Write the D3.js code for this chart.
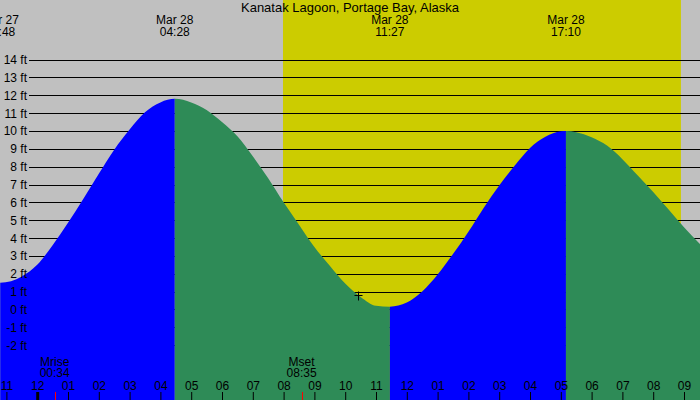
<!DOCTYPE html>
<html>
<head>
<meta charset="utf-8">
<script src="https://cdn.jsdelivr.net/npm/d3@7"></script>
<style>
  body { margin: 0; }
  text { font-family: "Liberation Sans", Arial, sans-serif; }
</style>
</head>
<body>
<script>
// chart size
var width = 700,
    height = 400;

// tide heights (hours from Mar 28 00:00, feet)
var tideHours = [-1.3, -1.2, -0.5, 0, 0.5, 1, 1.5, 2, 2.5, 3, 3.5, 4, 4.47,
                 5, 5.5, 6, 6.5, 7, 7.5, 8, 8.5, 9, 9.5, 10, 10.5, 11, 11.45,
                 12, 12.5, 13, 13.5, 14, 14.5, 15, 15.5, 16, 16.5, 17, 17.17,
                 17.5, 18, 18.5, 19, 19.5, 20, 20.5, 21, 21.5, 22];
var tideFeet = [1.51, 1.5, 1.85, 2.5, 3.6, 4.85, 6.2, 7.6, 8.95, 10.08, 11.05, 11.6, 11.8,
                11.6, 11.18, 10.5, 9.7, 8.58, 7.35, 6.0, 4.75, 3.5, 2.45, 1.45, 0.7, 0.2, 0.15,
                0.38, 1.0, 1.95, 3.1, 4.35, 5.7, 6.95, 8.05, 9.05, 9.67, 9.98, 10.0,
                9.93, 9.65, 9.18, 8.42, 7.5, 6.58, 5.6, 4.6, 3.7, 2.9];

// high / low tides
var extremeHours = [-1.2, 4.467, 11.45, 17.167];
var extremeDates = ["Mar 27", "Mar 28", "Mar 28", "Mar 28"];
var extremeTimes = ["22:48", "04:28", "11:27", "17:10"];

// sun and moon
var sunriseHour = 7.98, sunsetHour = 20.9;
var moonHours = [0.567, 8.583];
var moonNames = ["Mrise", "Mset"];
var moonTimes = ["00:34", "08:35"];

// current time marker
var nowHour = 10.42, nowFeet = 0.81;

// axis ticks
var hourTicks = d3.range(-1, 22);
var feetTicks = d3.range(-2, 15);

var x = d3.scaleLinear().domain([0, 21]).range([37.2, 684]);
var y = d3.scaleLinear().domain([0, 14]).range([309.4, 59.6]);

var svg = d3.select("body").append("svg")
    .attr("width", width)
    .attr("height", height);

// night / day background
svg.append("rect")
    .attr("width", width).attr("height", height)
    .attr("fill", "#c0c0c0");
svg.append("rect")
    .attr("x", x(sunriseHour)).attr("y", 0)
    .attr("width", x(sunsetHour) - x(sunriseHour)).attr("height", height)
    .attr("fill", "#cccc00");

// grid lines (under the water)
svg.append("g")
  .selectAll("line")
  .data(feetTicks)
  .enter().append("line")
    .attr("x1", 29).attr("x2", width)
    .attr("y1", d => Math.round(y(d)) + 0.5)
    .attr("y2", d => Math.round(y(d)) + 0.5)
    .attr("stroke", "#000");

// water, blue while rising, green while falling
var tide = tideHours.map((h, i) => ({h: h, ft: tideFeet[i]}));
var area = d3.area()
    .x(d => x(d.h))
    .y0(height)
    .y1(d => y(d.ft))
    .curve(d3.curveMonotoneX);

var bounds = [-3].concat(extremeHours, [24]);
var phases = [];
for (var i = 0; i < bounds.length - 1; i++) {
  phases.push({from: bounds[i], to: bounds[i + 1], rising: i % 2 == 1});
}

var defs = svg.append("defs");
phases.forEach(function(p, i) {
  defs.append("clipPath").attr("id", "ph" + i)
    .append("rect")
      .attr("x", x(p.from)).attr("y", 0)
      .attr("width", x(p.to) - x(p.from)).attr("height", height);
  svg.append("path")
    .datum(tide)
    .attr("d", area)
    .attr("clip-path", "url(#ph" + i + ")")
    .attr("fill", p.rising ? "#0000ff" : "#2e8b57");
});

// y labels
svg.append("g")
  .selectAll("text")
  .data(feetTicks)
  .enter().append("text")
    .attr("x", 27)
    .attr("y", d => y(d) + 4.5)
    .attr("text-anchor", "end")
    .attr("font-size", 12)
    .text(d => d + " ft");

// hour axis along the bottom
var xAxis = d3.axisTop(x)
    .tickValues(hourTicks)
    .tickSize(8)
    .tickPadding(2)
    .tickFormat(h => d3.format("02")(((h % 12) + 12) % 12 || 12));

var gx = svg.append("g")
    .attr("transform", "translate(0," + height + ")")
    .call(xAxis);
gx.select(".domain").remove();
gx.selectAll("text")
    .attr("font-size", 12)
    .attr("font-family", "Liberation Sans, Arial, sans-serif")
    .attr("fill", "#000");
gx.selectAll("line").attr("stroke", "#000");
gx.selectAll(".tick").filter(d => d == 0).select("line").attr("stroke-width", 3);

// moon rise / set
moonHours.forEach(function(h, i) {
  svg.append("line")
    .attr("x1", Math.round(x(h)) + 0.5).attr("x2", Math.round(x(h)) + 0.5)
    .attr("y1", 392).attr("y2", height)
    .attr("stroke", "#ff0000");
  svg.append("text")
    .attr("x", x(h)).attr("y", 366)
    .attr("text-anchor", "middle").attr("font-size", 12)
    .text(moonNames[i]);
  svg.append("text")
    .attr("x", x(h)).attr("y", 377)
    .attr("text-anchor", "middle").attr("font-size", 12)
    .text(moonTimes[i]);
});

// high / low labels
extremeHours.forEach(function(h, i) {
  svg.append("text")
    .attr("x", x(h)).attr("y", 24)
    .attr("text-anchor", "middle").attr("font-size", 12)
    .text(extremeDates[i]);
  svg.append("text")
    .attr("x", x(h)).attr("y", 36)
    .attr("text-anchor", "middle").attr("font-size", 12)
    .text(extremeTimes[i]);
});

// current time cross
var cx = Math.round(x(nowHour)) + 0.5, cy = Math.round(y(nowFeet)) + 0.5;
svg.append("path")
    .attr("d", "M" + (cx - 4) + "," + cy + "H" + (cx + 4) + "M" + cx + "," + (cy - 4) + "V" + (cy + 5))
    .attr("stroke", "#000");

// title
svg.append("text")
    .attr("x", width / 2).attr("y", 12)
    .attr("text-anchor", "middle")
    .attr("font-size", 13)
    .text("Kanatak Lagoon, Portage Bay, Alaska");
</script>
</body>
</html>
